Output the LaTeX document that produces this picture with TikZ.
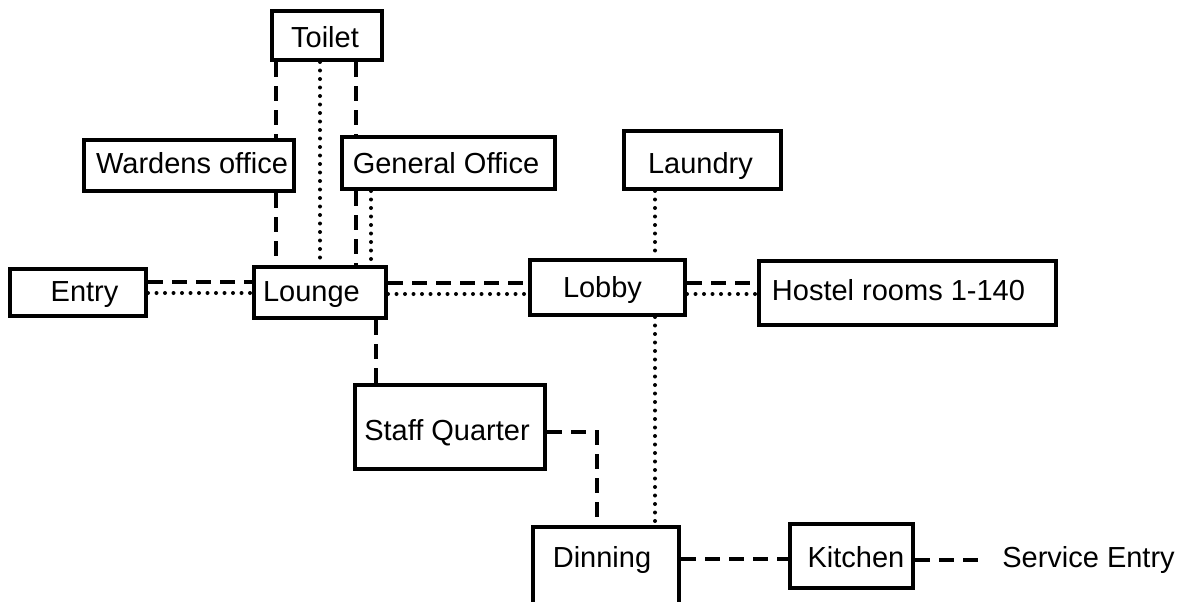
\documentclass[tikz,border=0pt]{standalone}
\usepackage{fontspec}
\setmainfont{Liberation Sans}
\begin{document}
\begin{tikzpicture}[x=1pt,y=-1pt,
  room/.style={draw, line width=4pt, inner sep=0pt, outer sep=2pt},
  lbl/.style={anchor=base, inner sep=0pt, font=\fontsize{29}{34}\selectfont},
  dashline/.style={line width=4pt, dash pattern=on 15pt off 9pt},
  dotline/.style={line width=4pt, line cap=round, dash pattern=on 0pt off 8.5pt}]
\useasboundingbox (0,0) rectangle (1188,602);
\clip (0,0) rectangle (1188,602);

% rooms
\node[room, minimum width=110pt, minimum height=49pt] (toilet)  at (327,35.5) {};
\node[room, minimum width=210pt, minimum height=51pt] (wardens) at (189,165.5) {};
\node[room, minimum width=213pt, minimum height=52pt] (general) at (448.5,163) {};
\node[room, minimum width=157pt, minimum height=58pt] (laundry) at (702.5,160) {};
\node[room, minimum width=136pt, minimum height=47pt] (entry)   at (78,292.5) {};
\node[room, minimum width=132pt, minimum height=51pt] (lounge)  at (320,292.5) {};
\node[room, minimum width=155pt, minimum height=55pt] (lobby)   at (607.5,287.5) {};
\node[room, minimum width=297pt, minimum height=64pt] (hostel)  at (907.5,293) {};
\node[room, minimum width=190pt, minimum height=84pt] (staff)   at (450,427) {};
\node[room, minimum width=146pt, minimum height=116pt] (dinning) at (606,585) {};
\node[room, minimum width=123pt, minimum height=64pt] (kitchen) at (851.5,556) {};

% labels
\node[lbl] (toiletT)  at (325,48) {Toilet};
\node[lbl] (wardensT) at (192,173) {Wardens office};
\node[lbl] (generalT) at (446,173) {General Office};
\node[lbl] (laundryT) at (700.5,173) {Laundry};
\node[lbl] (entryT)   at (84.5,301) {Entry};
\node[lbl] (loungeT)  at (311.5,301) {Lounge};
\node[lbl] (lobbyT)   at (602.5,297) {Lobby};
\node[lbl] (hostelT)  at (898.5,300) {Hostel rooms 1-140};
\node[lbl] (staffT)   at (447,440) {Staff Quarter};
\node[lbl] (dinningT) at (602,567) {Dinning};
\node[lbl] (kitchenT) at (856,567) {Kitchen};
\node[lbl] (service)  at (1088.5,567) {Service Entry};

% connectors around the toilet / offices
\draw[dashline] (toilet.south -| 276,0) -- (wardens.north -| 276,0);
\draw[dashline] (wardens.south -| 276,0) -- (lounge.north -| 276,0);
\draw[dotline]  (toilet.south -| 320,0) -- (lounge.north -| 320,0);
\draw[dashline] (toilet.south -| 356,0) -- (general.north -| 356,0);
\draw[dashline] (general.south -| 356,0) -- (lounge.north -| 356,0);
\draw[dotline]  (general.south -| 371,0) -- (lounge.north -| 371,0);

% main corridor
\draw[dashline] (entry.east |- 0,282) -- (lounge.west |- 0,282);
\draw[dotline]  (entry.east |- 0,293) -- (lounge.west |- 0,293);
\draw[dashline] (lounge.east |- 0,283) -- (lobby.west |- 0,283);
\draw[dotline]  (lounge.east |- 0,294) -- (lobby.west |- 0,294);
\draw[dashline] (lobby.east |- 0,283) -- (hostel.west |- 0,283);
\draw[dotline]  (lobby.east |- 0,294) -- (hostel.west |- 0,294);

% laundry / dinning
\draw[dotline] (laundry.south -| 655,0) -- (lobby.north -| 655,0);
\draw[dotline] (lobby.south -| 655,0) -- (dinning.north -| 655,0);

% staff quarter
\draw[dashline] (lounge.south -| 376,0) -- (staff.north -| 376,0);
\draw[dashline] (staff.east |- 0,432) -| (dinning.north -| 597,0);

% service side
\draw[dashline] (dinning.east |- 0,559) -- (kitchen.west |- 0,559);
\draw[dashline] (kitchen.east |- 0,560) -- ([xshift=-24pt]service.west |- 0,560);
\end{tikzpicture}
\end{document}
